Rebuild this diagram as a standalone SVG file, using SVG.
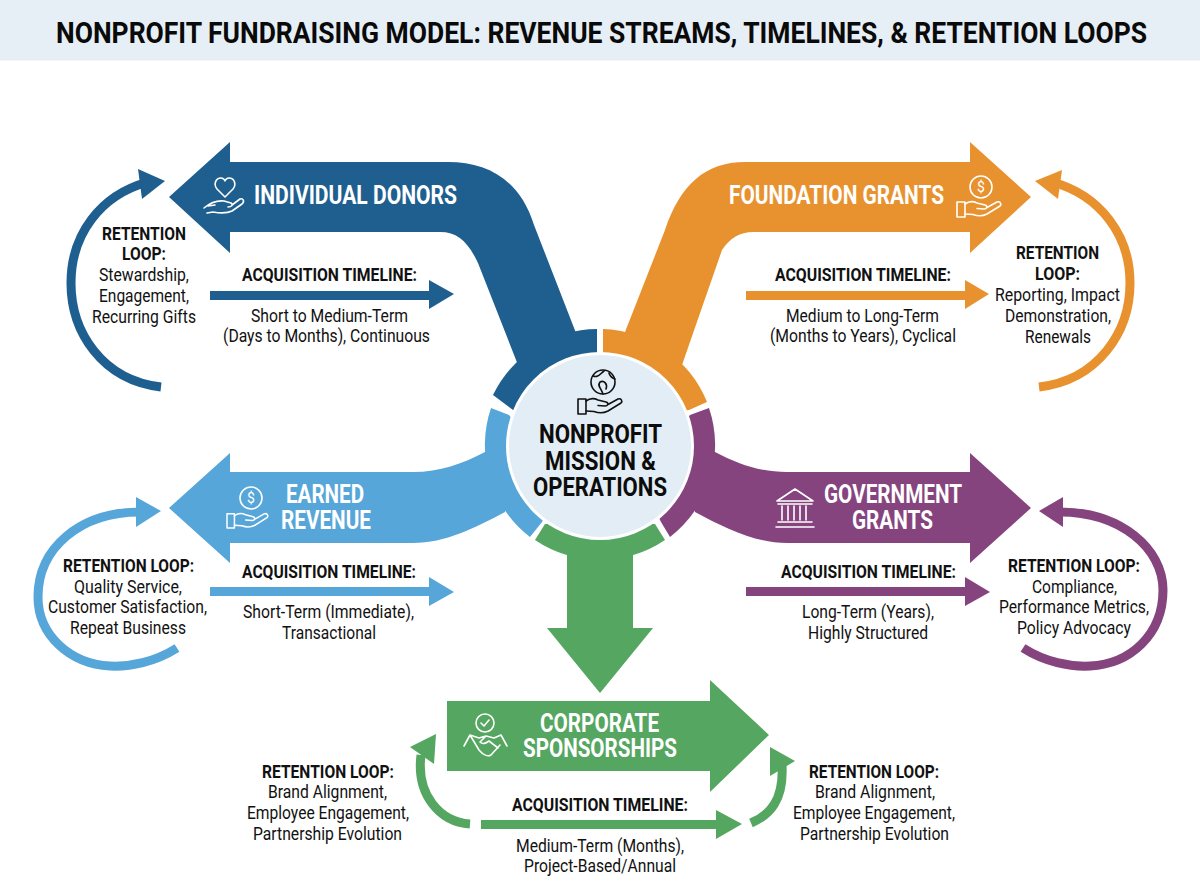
<svg xmlns="http://www.w3.org/2000/svg" xmlns:xlink="http://www.w3.org/1999/xlink" width="1200" height="896" viewBox="0 0 1200 896">
<style>
text{font-family:Roboto,"Liberation Sans",sans-serif;fill:#111;font-size:19px}
.b{font-weight:700}
.w{font-weight:700;fill:#fff;font-size:26px}
.c{font-weight:700;font-size:26px;fill:#0c0c0c}
.blue{fill:#1f5f8f}.orange{fill:#e8922f}.sky{fill:#57a6d9}.purple{fill:#86447f}.green{fill:#55a661}
.ls{fill:none;stroke-width:9}
.ic{fill:none;stroke:#fff;stroke-width:1.6;stroke-linecap:round;stroke-linejoin:round}
.kc{fill:none;stroke:#111;stroke-width:1.6;stroke-linecap:round;stroke-linejoin:round}
.sign{font-size:14px;fill:#fff;stroke:none}
</style>
<defs>
<g id="hand"><rect x="0" y="3" width="8" height="15"/><path d="M8,5C12,2 16,2 20,4L28,6C31,7 30,10 27,10L20,9.5M30,8.5L40,3C43,2 45,5 43,7L30,15C26,17 20,17 16,15.5L8,15"/></g>
</defs>
<rect x="0" y="0" width="1200" height="60.500" fill="#e6eff6"/>
<text transform="translate(56,43) scale(.84,1)" class="b" style="font-size:30px;fill:#0a0a0a" textLength="1298.800" lengthAdjust="spacingAndGlyphs">NONPROFIT FUNDRAISING MODEL: REVENUE STREAMS, TIMELINES, &amp; RETENTION LOOPS</text>

<g id="connectors">
<path class="ls" stroke="#1f5f8f" d="M161,387C102,380 71,332 71,283C71,235 100,195 148,182"/>
<polygon class="blue" points="165,181 138,169 142,199"/>
<polygon class="blue" points="210,291 429,291 429,280 454,294 429,309 429,300 210,300"/>
<path class="ls" stroke="#e8922f" d="M1039,387C1098,380 1130,332 1130,283C1130,235 1100,195 1052,182"/>
<polygon class="orange" points="1035,181 1062,170 1058,199"/>
<polygon class="orange" points="746,291 965,291 965,280 989,294 965,309 965,300 746,300"/>
<path class="ls" stroke="#57a6d9" d="M177,648C155,662 130,667 110,666C70,664 38,635 38,597C38,548 80,512 140,512"/>
<polygon class="sky" points="161,511 136,497 136,527"/>
<polygon class="sky" points="210,587 429,587 429,577 454,592 429,606 429,596 210,596"/>
<path class="ls" stroke="#86447f" d="M1023,648C1045,662 1070,667 1090,666C1130,664 1163,635 1163,590C1163,548 1120,512 1060,512"/>
<polygon class="purple" points="1039,511 1063,497 1063,527"/>
<polygon class="purple" points="746,587 965,587 965,577 990,592 965,606 965,596 746,596"/>
<path class="ls" stroke="#55a661" d="M470,824C440,822 416,795 421,755"/>
<polygon class="green" points="436,734 410,747 434,764"/>
<polygon class="green" points="481,820 716,820 716,810 742,824 716,839 716,829 481,829"/>
<path class="ls" stroke="#55a661" d="M751,823C770,815 784,800 782,765"/>
<polygon class="green" points="770,747 795,761 770,776"/>
</g>

<g id="individual-donors">
<path class="blue" d="M169,197L230,142L230,162L448,162C488,162 520,180 534,225L576,333L597,330L597,420L520,420L518,365L478,263C468,242 458,232 440,232L230,232L230,253Z"/>
<path class="blue" d="M597,329A117,117 0 0 0 493,395L513,410L597,420Z"/>
<g class="ic"><path d="M225,197L217,189C213,184 216,178 221,178C223,178 225,180 225,181C225,180 227,178 229,178C234,178 237,184 233,189Z"/><path d="M204,208C210,203 216,200 224,201L231,203C234,205 231,207 228,207M232,205L240,199C243,198 245,201 242,204L232,211C226,214 219,213 213,212L207,213M208,206L215,205"/></g>
<text transform="translate(254,204) scale(.84,1)" class="w" textLength="241.700" lengthAdjust="spacingAndGlyphs">INDIVIDUAL DONORS</text>
<text transform="translate(102,240) scale(.84,1)" class="b" textLength="100" lengthAdjust="spacingAndGlyphs">RETENTION</text>
<text transform="translate(122,260) scale(.84,1)" class="b" textLength="52.400" lengthAdjust="spacingAndGlyphs">LOOP:</text>
<text transform="translate(99,281) scale(.84,1)" textLength="107.100" lengthAdjust="spacingAndGlyphs">Stewardship,</text>
<text transform="translate(99,302) scale(.84,1)" textLength="107.100" lengthAdjust="spacingAndGlyphs">Engagement,</text>
<text transform="translate(92,323) scale(.84,1)" textLength="123.800" lengthAdjust="spacingAndGlyphs">Recurring Gifts</text>
<text transform="translate(242,281) scale(.84,1)" class="b" textLength="208.300" lengthAdjust="spacingAndGlyphs">ACQUISITION TIMELINE:</text>
<text transform="translate(251,322) scale(.84,1)" textLength="186.900" lengthAdjust="spacingAndGlyphs">Short to Medium-Term</text>
<text transform="translate(223,342) scale(.84,1)" textLength="246.400" lengthAdjust="spacingAndGlyphs">(Days to Months), Continuous</text>
</g>

<g id="foundation-grants">
<path class="orange" d="M1031,197L970,142L970,162L745,162C705,162 680,185 665,230L625,332L603,330L603,420L680,420L682,365L722,250C730,238 740,232 753,232L970,232L970,253Z"/>
<path class="orange" d="M603,329A117,117 0 0 1 707,402L689,410L603,420Z"/>
<g class="ic"><circle cx="981" cy="187" r="11"/><text x="981" y="192" text-anchor="middle" class="sign">$</text><use xlink:href="#hand" href="#hand" transform="translate(957,199)"/></g>
<text transform="translate(729,204) scale(.84,1)" class="w" textLength="256" lengthAdjust="spacingAndGlyphs">FOUNDATION GRANTS</text>
<text transform="translate(1016,259) scale(.84,1)" class="b" textLength="98.800" lengthAdjust="spacingAndGlyphs">RETENTION</text>
<text transform="translate(1035,280) scale(.84,1)" class="b" textLength="53.600" lengthAdjust="spacingAndGlyphs">LOOP:</text>
<text transform="translate(995,301) scale(.84,1)" textLength="148.800" lengthAdjust="spacingAndGlyphs">Reporting, Impact</text>
<text transform="translate(1005,322) scale(.84,1)" textLength="126.200" lengthAdjust="spacingAndGlyphs">Demonstration,</text>
<text transform="translate(1025,343) scale(.84,1)" textLength="78.600" lengthAdjust="spacingAndGlyphs">Renewals</text>
<text transform="translate(775,281) scale(.84,1)" class="b" textLength="209.500" lengthAdjust="spacingAndGlyphs">ACQUISITION TIMELINE:</text>
<text transform="translate(786,322) scale(.84,1)" textLength="182.100" lengthAdjust="spacingAndGlyphs">Medium to Long-Term</text>
<text transform="translate(770,342) scale(.84,1)" textLength="221.400" lengthAdjust="spacingAndGlyphs">(Months to Years), Cyclical</text>
</g>

<g id="earned-revenue">
<path class="sky" d="M169,508L230,453L230,472L413,472C440,472 462,464 485,452L510,450L505,512C475,528 445,543 413,543L230,543L230,563Z"/>
<path class="sky" d="M491,408A116,116 0 0 0 530,537L542,522L560,480L509,415Z"/>
<g class="ic"><circle cx="251" cy="498" r="11"/><text x="251" y="503" text-anchor="middle" class="sign">$</text><use xlink:href="#hand" href="#hand" transform="translate(227,511) scale(.93,.95)"/></g>
<text transform="translate(286,503) scale(.84,1)" class="w" textLength="92.900" lengthAdjust="spacingAndGlyphs">EARNED</text>
<text transform="translate(281,529) scale(.84,1)" class="w" textLength="107.100" lengthAdjust="spacingAndGlyphs">REVENUE</text>
<text transform="translate(63,572) scale(.84,1)" class="b" textLength="156" lengthAdjust="spacingAndGlyphs">RETENTION LOOP:</text>
<text transform="translate(74,593) scale(.84,1)" textLength="128.600" lengthAdjust="spacingAndGlyphs">Quality Service,</text>
<text transform="translate(48,613) scale(.84,1)" textLength="189.300" lengthAdjust="spacingAndGlyphs">Customer Satisfaction,</text>
<text transform="translate(70,634) scale(.84,1)" textLength="138.100" lengthAdjust="spacingAndGlyphs">Repeat Business</text>
<text transform="translate(242,578) scale(.84,1)" class="b" textLength="207.100" lengthAdjust="spacingAndGlyphs">ACQUISITION TIMELINE:</text>
<text transform="translate(243,618) scale(.84,1)" textLength="203.600" lengthAdjust="spacingAndGlyphs">Short-Term (Immediate),</text>
<text transform="translate(282,639) scale(.84,1)" textLength="111.900" lengthAdjust="spacingAndGlyphs">Transactional</text>
</g>

<g id="government-grants">
<path class="purple" d="M1031,508L970,453L970,472L787,472C760,472 738,464 715,452L690,450L695,512C725,528 755,543 787,543L970,543L970,563Z"/>
<path class="purple" d="M709,408A116,116 0 0 1 670,537L661,522L640,480L690,415Z"/>
<g class="ic"><path d="M795,489L777,501L813,501ZM778,504L812,504M778,522L812,522M776,527L814,527"/><path d="M782,506V520M788,506V520M794,506V520M800,506V520M806,506V520"/></g>
<text transform="translate(824,503) scale(.84,1)" class="w" textLength="164.300" lengthAdjust="spacingAndGlyphs">GOVERNMENT</text>
<text transform="translate(852,529) scale(.84,1)" class="w" textLength="96.400" lengthAdjust="spacingAndGlyphs">GRANTS</text>
<text transform="translate(1008,572) scale(.84,1)" class="b" textLength="157.100" lengthAdjust="spacingAndGlyphs">RETENTION LOOP:</text>
<text transform="translate(1032,593) scale(.84,1)" textLength="101.200" lengthAdjust="spacingAndGlyphs">Compliance,</text>
<text transform="translate(999,613) scale(.84,1)" textLength="178.600" lengthAdjust="spacingAndGlyphs">Performance Metrics,</text>
<text transform="translate(1017,634) scale(.84,1)" textLength="135.700" lengthAdjust="spacingAndGlyphs">Policy Advocacy</text>
<text transform="translate(781,578) scale(.84,1)" class="b" textLength="208.300" lengthAdjust="spacingAndGlyphs">ACQUISITION TIMELINE:</text>
<text transform="translate(802,618) scale(.84,1)" textLength="157.100" lengthAdjust="spacingAndGlyphs">Long-Term (Years),</text>
<text transform="translate(808,639) scale(.84,1)" textLength="142.900" lengthAdjust="spacingAndGlyphs">Highly Structured</text>
</g>

<g id="corporate-sponsorships">
<path class="green" d="M535,540A116,116 0 0 0 665,540L655,524L545,524Z"/>
<polygon class="green" points="567,530 633,530 633,628 653,628 600,693 547,628 567,628"/>
<polygon class="green" points="447,701 710,701 710,680 769,735 710,792 710,771 447,771"/>
<g class="ic"><circle cx="485" cy="723" r="9"/><path d="M481,723L484,726L489,720"/><path d="M464,746L470,735L479,738L486,736L494,738L501,735L507,746M470,735L479,750C483,755 488,757 491,755L500,745M486,736L480,742C483,745 486,743 489,741L498,748"/></g>
<text transform="translate(540,732) scale(.84,1)" class="w" textLength="141.700" lengthAdjust="spacingAndGlyphs">CORPORATE</text>
<text transform="translate(523,757) scale(.84,1)" class="w" textLength="183.300" lengthAdjust="spacingAndGlyphs">SPONSORSHIPS</text>
<text transform="translate(262,778) scale(.84,1)" class="b" textLength="157.100" lengthAdjust="spacingAndGlyphs">RETENTION LOOP:</text>
<text transform="translate(268,798) scale(.84,1)" textLength="141.700" lengthAdjust="spacingAndGlyphs">Brand Alignment,</text>
<text transform="translate(247,819) scale(.84,1)" textLength="192.900" lengthAdjust="spacingAndGlyphs">Employee Engagement,</text>
<text transform="translate(253,840) scale(.84,1)" textLength="177.400" lengthAdjust="spacingAndGlyphs">Partnership Evolution</text>
<text transform="translate(809,778) scale(.84,1)" class="b" textLength="154.800" lengthAdjust="spacingAndGlyphs">RETENTION LOOP:</text>
<text transform="translate(815,798) scale(.84,1)" textLength="142.900" lengthAdjust="spacingAndGlyphs">Brand Alignment,</text>
<text transform="translate(793,819) scale(.84,1)" textLength="192.900" lengthAdjust="spacingAndGlyphs">Employee Engagement,</text>
<text transform="translate(800,840) scale(.84,1)" textLength="177.400" lengthAdjust="spacingAndGlyphs">Partnership Evolution</text>
<text transform="translate(512,811) scale(.84,1)" class="b" textLength="209.500" lengthAdjust="spacingAndGlyphs">ACQUISITION TIMELINE:</text>
<text transform="translate(516,852) scale(.84,1)" textLength="200" lengthAdjust="spacingAndGlyphs">Medium-Term (Months),</text>
<text transform="translate(524,872) scale(.84,1)" textLength="181" lengthAdjust="spacingAndGlyphs">Project-Based/Annual</text>
</g>

<g id="mission-hub">
<circle cx="600" cy="446" r="92.500" fill="#e3edf5" stroke="#fff" stroke-width="3"/>
<g class="kc"><circle cx="603" cy="382" r="12"/><path d="M593,376C598,378 600,374 604,371M603,394C601,388 597,386 600,382C604,380 608,384 606,389M609,373C610,377 612,378 615,379"/><use xlink:href="#hand" href="#hand" transform="translate(578,396)"/></g>
<text transform="translate(539,443) scale(.84,1)" class="c" textLength="146.400" lengthAdjust="spacingAndGlyphs">NONPROFIT</text>
<text transform="translate(545,470) scale(.84,1)" class="c" textLength="132.100" lengthAdjust="spacingAndGlyphs">MISSION &amp;</text>
<text transform="translate(533,496) scale(.84,1)" class="c" textLength="159.500" lengthAdjust="spacingAndGlyphs">OPERATIONS</text>
</g>
</svg>
